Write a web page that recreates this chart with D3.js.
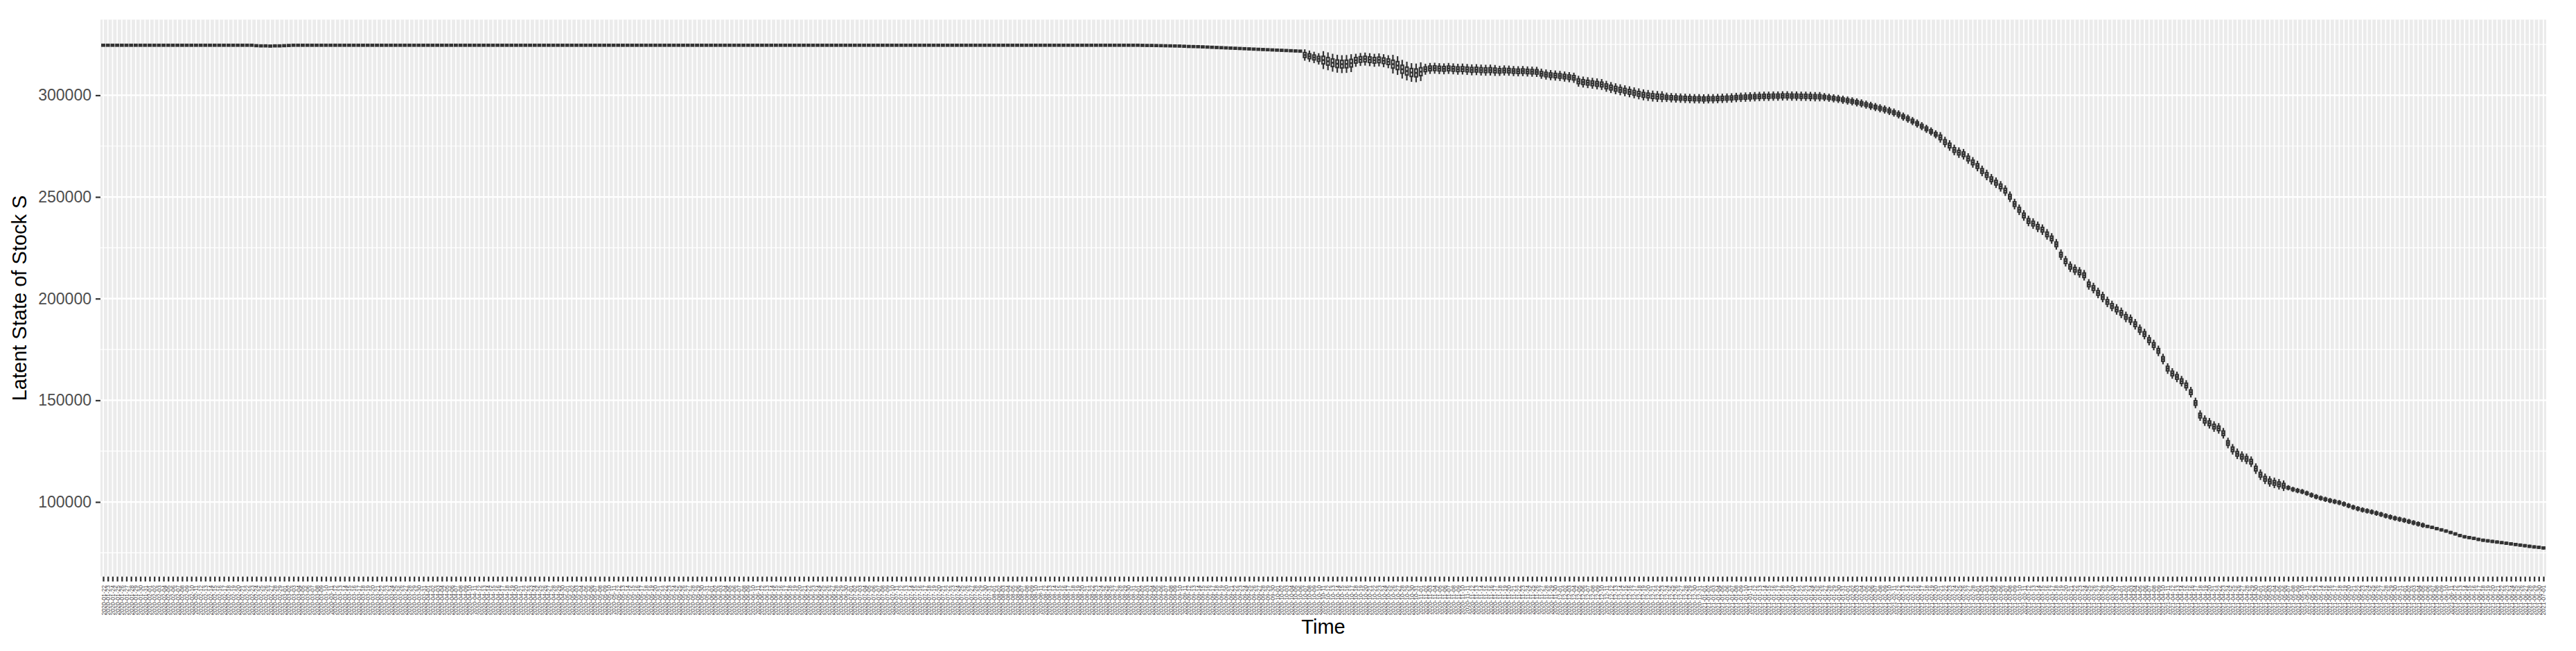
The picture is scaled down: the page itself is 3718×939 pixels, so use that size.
<!DOCTYPE html>
<html>
<head>
<meta charset="utf-8">
<script src="https://cdn.jsdelivr.net/npm/d3@7"></script>
<style>
    body { margin: 0; background: #fff; }
    svg { display: block; font-family: "Liberation Sans", Arial, sans-serif; }
</style>
</head>
<body>
<div id="chart"></div>
<script>
// first day on the x axis, one category per day
const startDay = "2020-01-22";

// median of the latent state S per day
const medians = [
    324600, 324600, 324600, 324600, 324600, 324600, 324600, 324600, 324600, 324600, 324600, 324600, 324600, 324600, 324600, 324600, 324600, 324600, 324600, 324600,
    324600, 324600, 324600, 324600, 324600, 324600, 324600, 324600, 324600, 324600, 324600, 324600, 324600, 324400, 324300, 324300, 324200, 324300, 324300, 324400,
    324500, 324600, 324600, 324600, 324600, 324600, 324600, 324600, 324600, 324600, 324600, 324600, 324600, 324600, 324600, 324600, 324600, 324600, 324600, 324600,
    324600, 324600, 324600, 324600, 324600, 324600, 324600, 324600, 324600, 324600, 324600, 324600, 324600, 324600, 324600, 324600, 324600, 324600, 324600, 324600,
    324600, 324600, 324600, 324600, 324600, 324600, 324600, 324600, 324600, 324600, 324600, 324600, 324600, 324600, 324600, 324600, 324600, 324600, 324600, 324600,
    324600, 324600, 324600, 324600, 324600, 324600, 324600, 324600, 324600, 324600, 324600, 324600, 324600, 324600, 324600, 324600, 324600, 324600, 324600, 324600,
    324600, 324600, 324600, 324600, 324600, 324600, 324600, 324600, 324600, 324600, 324600, 324600, 324600, 324600, 324600, 324600, 324600, 324600, 324600, 324600,
    324600, 324600, 324600, 324600, 324600, 324600, 324600, 324600, 324600, 324600, 324600, 324600, 324600, 324600, 324600, 324600, 324600, 324600, 324600, 324600,
    324600, 324600, 324600, 324600, 324600, 324600, 324600, 324600, 324600, 324600, 324600, 324600, 324600, 324600, 324600, 324600, 324600, 324600, 324600, 324600,
    324600, 324600, 324600, 324600, 324600, 324600, 324600, 324600, 324600, 324600, 324600, 324600, 324600, 324600, 324600, 324600, 324600, 324600, 324600, 324600,
    324600, 324600, 324600, 324600, 324600, 324600, 324600, 324600, 324600, 324600, 324600, 324600, 324600, 324600, 324600, 324600, 324600, 324600, 324600, 324600,
    324600, 324600, 324600, 324600, 324550, 324500, 324500, 324450, 324400, 324350, 324300, 324250, 324200, 324100, 324000, 323950, 323900, 323800, 323700, 323600,
    323500, 323400, 323300, 323200, 323100, 323000, 322900, 322800, 322700, 322600, 322500, 322400, 322300, 322200, 322100, 322000, 321900, 321800, 321700, 319800,
    319200, 318600, 317900, 317300, 316700, 316000, 315500, 315300, 315400, 315800, 317200, 317600, 317800, 317500, 317200, 317400, 317000, 316500, 315300, 314600,
    312800, 311900, 311200, 311000, 311600, 312800, 313200, 313300, 313100, 313000, 313200, 313000, 312800, 312900, 312700, 312500, 312600, 312400, 312300, 312400,
    312200, 312000, 312200, 312100, 311900, 311800, 311900, 311700, 311600, 311500, 310600, 310200, 309900, 309700, 309500, 309200, 308900, 308600, 306900, 306500,
    306200, 305900, 305600, 305300, 304400, 303800, 303200, 302700, 302200, 301700, 301200, 300700, 300200, 299900, 299600, 299400, 299300, 299000, 298800, 298700,
    298600, 298500, 298400, 298300, 298300, 298200, 298300, 298300, 298400, 298500, 298600, 298700, 298900, 299000, 299100, 299200, 299300, 299400, 299500, 299500,
    299600, 299600, 299700, 299700, 299600, 299600, 299500, 299500, 299400, 299300, 299300, 299100, 298800, 298500, 298200, 297800, 297400, 297000, 296500, 296000,
    295400, 294800, 294200, 293600, 293000, 292300, 291500, 290600, 289500, 288500, 287300, 286100, 284800, 283500, 282200, 280800, 279300, 277000, 275300, 273100,
    271800, 271000, 268900, 267000, 265200, 262800, 260800, 258700, 257000, 255200, 253100, 250100, 246500, 243700, 240900, 238200, 236900, 235300, 233900, 231600,
    229600, 226700, 221600, 218400, 215700, 214200, 212900, 211500, 207000, 205200, 202800, 200800, 198400, 196400, 194700, 193000, 191000, 189600, 187400, 184700,
    182600, 179600, 177200, 174300, 170300, 165600, 163200, 161500, 159400, 157300, 154000, 148700, 142500, 140000, 138700, 137100, 136200, 133800, 129000, 125900,
    123700, 122300, 121200, 119800, 116400, 113400, 111400, 110100, 109400, 108700, 108000, 107000, 106200, 105600, 105100, 104300, 103400, 102600, 101900, 101300,
    100700, 100200, 99700, 99000, 98200, 97400, 96700, 96100, 95600, 95100, 94500, 93900, 93200, 92600, 92000, 91500, 91000, 90400, 89800, 89200,
    88600, 88000, 87500, 86900, 86300, 85700, 85000, 84300, 83500, 82900, 82500, 82100, 81600, 81200, 80900, 80600, 80300, 80000, 79700, 79400,
    79100, 78800, 78500, 78200, 77900, 77700, 77400
];

// half range of the whiskers over spans of days [from, to, half range]
const whiskerSpans = [
    [0, 225, 250],
    [226, 258, 600],
    [259, 262, 2800],
    [263, 269, 4400],
    [270, 277, 3200],
    [278, 284, 4600],
    [285, 300, 2700],
    [301, 317, 2500],
    [318, 336, 2700],
    [337, 370, 2300],
    [371, 395, 2000],
    [396, 470, 2600],
    [471, 500, 1300],
    [501, 526, 800]
];

const yTicks = [100000, 150000, 200000, 250000, 300000];
const yMinor = [75000, 125000, 175000, 225000, 275000, 325000];
const yRange = [63300, 337200];

class StockChart {
    constructor(root) {
        this.width = 3718;
        this.height = 939;
        this.panel = { left: 145, right: 3675, top: 28.3, bottom: 831.7 };
        this.svg = d3.select(root).append("svg")
            .attr("width", this.width)
            .attr("height", this.height);

        var parse = d3.timeParse("%Y-%m-%d");
        var first = parse(startDay);
        this.days = d3.timeDay.range(first, d3.timeDay.offset(first, medians.length));
        this.fmt = d3.timeFormat("%Y-%m-%d");

        this.x = d3.scalePoint()
            .domain(this.days.map(this.fmt))
            .range([this.panel.left, this.panel.right])
            .padding(0.6);
        this.y = d3.scaleLinear()
            .domain(yRange)
            .range([this.panel.bottom, this.panel.top]);
    }

    spread(i) {
        var s = whiskerSpans.find((d) => i >= d[0] && i <= d[1]);
        return s ? s[2] : 200;
    }

    drawPanel() {
        var p = this.panel, svg = this.svg, x = this.x, y = this.y;
        svg.append("rect")
            .attr("x", p.left).attr("y", p.top)
            .attr("width", p.right - p.left).attr("height", p.bottom - p.top)
            .attr("fill", "#EBEBEB");

        //minor horizontal grid
        svg.append("g").selectAll("line").data(yMinor).enter()
            .append("line")
            .attr("x1", p.left).attr("x2", p.right)
            .attr("y1", (d) => y(d)).attr("y2", (d) => y(d))
            .attr("stroke", "#fff").attr("stroke-width", 1.2);
        //major horizontal grid
        svg.append("g").selectAll("line").data(yTicks).enter()
            .append("line")
            .attr("x1", p.left).attr("x2", p.right)
            .attr("y1", (d) => y(d)).attr("y2", (d) => y(d))
            .attr("stroke", "#fff").attr("stroke-width", 2.3);
        //one vertical line per day
        svg.append("g").selectAll("line").data(x.domain()).enter()
            .append("line")
            .attr("x1", (d) => x(d)).attr("x2", (d) => x(d))
            .attr("y1", p.top).attr("y2", p.bottom)
            .attr("stroke", "#fff").attr("stroke-width", 1.8);
    }

    drawBoxes() {
        var x = this.x, y = this.y;
        var bw = x.step() * 0.55;
        var rows = medians.map((m, i) => {
            var s = this.spread(i);
            return { key: this.fmt(this.days[i]), med: m, lo: m - s, hi: m + s, q1: m - s * 0.42, q3: m + s * 0.42 };
        });

        var g = this.svg.append("g").selectAll("g").data(rows).enter().append("g");
        g.append("line")
            .attr("x1", (d) => x(d.key)).attr("x2", (d) => x(d.key))
            .attr("y1", (d) => y(d.lo)).attr("y2", (d) => y(d.hi))
            .attr("stroke", "#333333").attr("stroke-width", 2.2);
        g.append("rect")
            .attr("x", (d) => x(d.key) - bw / 2)
            .attr("width", bw)
            .attr("y", (d) => Math.min(y(d.q3), y(d.med) - 1.25))
            .attr("height", (d) => Math.max(2.5, y(d.q1) - y(d.q3)))
            .attr("fill", "#fff")
            .attr("stroke", "#333333").attr("stroke-width", 2.2);
        g.append("line")
            .attr("x1", (d) => x(d.key) - bw / 2).attr("x2", (d) => x(d.key) + bw / 2)
            .attr("y1", (d) => y(d.med)).attr("y2", (d) => y(d.med))
            .attr("stroke", "#333333").attr("stroke-width", 2.6);
    }

    drawAxes() {
        var p = this.panel, svg = this.svg;

        var yAxis = svg.append("g")
            .attr("transform", "translate(" + p.left + ",0)")
            .call(d3.axisLeft(this.y).tickValues(yTicks).tickSize(7).tickPadding(6).tickFormat(d3.format("d")));
        yAxis.select(".domain").remove();
        yAxis.selectAll(".tick line").attr("stroke", "#333333").attr("stroke-width", 2.2);
        yAxis.selectAll(".tick text")
            .attr("fill", "#4D4D4D")
            .style("font-size", "23px")
            .style("font-family", "Liberation Sans, Arial, sans-serif");

        var xAxis = svg.append("g")
            .attr("transform", "translate(0," + p.bottom + ")")
            .call(d3.axisBottom(this.x).tickSize(7).tickPadding(5));
        xAxis.select(".domain").remove();
        xAxis.selectAll(".tick line").attr("stroke", "#333333").attr("stroke-width", 2.4);
        xAxis.selectAll(".tick text")
            .attr("fill", "#4D4D4D")
            .attr("x", -12.3)
            .attr("y", 0)
            .attr("dy", "0.35em")
            .attr("transform", "rotate(-90)")
            .style("text-anchor", "end")
            .style("font-size", "8.5px")
            .style("font-family", "Liberation Sans, Arial, sans-serif");

        // titles
        svg.append("text")
            .attr("x", (p.left + p.right) / 2)
            .attr("y", 914)
            .attr("text-anchor", "middle")
            .style("font-size", "29px")
            .attr("fill", "#000")
            .text("Time");
        svg.append("text")
            .attr("transform", "translate(28," + (p.top + p.bottom) / 2 + ") rotate(-90)")
            .attr("text-anchor", "middle")
            .attr("dominant-baseline", "central")
            .style("font-size", "29px")
            .attr("fill", "#000")
            .text("Latent State of Stock S");
    }
}

var chart = new StockChart("#chart");
chart.drawPanel();
chart.drawBoxes();
chart.drawAxes();
</script>
</body>
</html>
